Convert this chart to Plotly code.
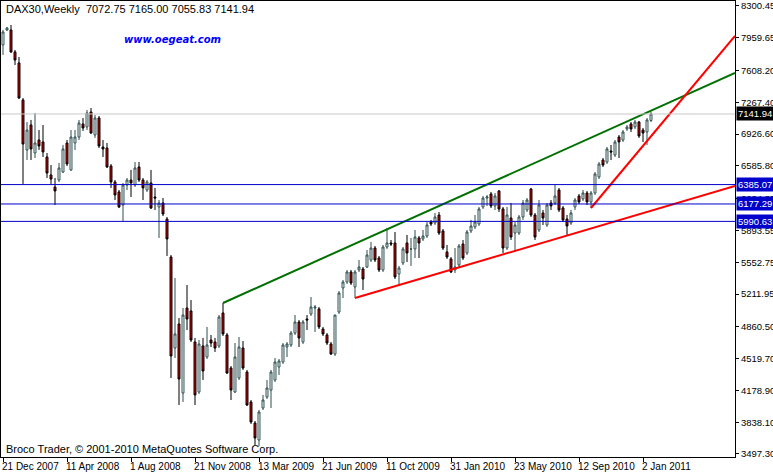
import plotly.graph_objects as go

# weekly DAX30 bars (O/H/L/C)
opens = [7882, 8042, 8042, 7807, 7689, 7292, 6756, 7024, 6724, 6863, 6842, 6681, 6488, 6359, 6434, 6520,
         6831, 6542, 6831, 6895, 7035, 7003, 7163, 6917, 7099, 6788, 6777, 6584, 6413, 6306, 6166, 6381,
         6434, 6381, 6574, 6434, 6327, 6402, 6252, 6145, 6188, 6016, 5609, 4633, 4891, 4151, 5062, 5030,
         4698, 4162, 4655, 4537, 4719, 4698, 4655, 5009, 4773, 4419, 4162, 4312, 4633, 4376, 4055, 3829,
         3647, 3990, 4108, 4183, 4290, 4430, 4483, 4644, 4666, 4794, 4912, 4698, 4944, 4998, 5062, 5052,
         4837, 4773, 4676, 4569, 5019, 5277, 5341, 5448, 5287, 5470, 5480, 5502, 5577, 5705, 5598, 5470,
         5716, 5759, 5759, 5427, 5545, 5759, 5695, 5695, 5813, 5802, 5834, 5984, 5973, 6059, 5888, 5663,
         5588, 5470, 5523, 5748, 5652, 5888, 5931, 5963, 6145, 6241, 6284, 6156, 6317, 6124, 5705, 6027,
         5866, 5866, 6038, 6113, 6338, 6059, 5898, 6081, 5952, 6188, 6188, 6327, 6134, 6016, 5973, 6145,
         6263, 6231, 6295, 6199, 6295, 6467, 6649, 6627, 6745, 6702, 6895, 6863, 6981, 7035, 7003, 7056,
         6970, 6949, 7072.75]
highs = [8043, 8075, 8096, 7828, 7753, 7313, 7056, 7078, 7153, 6970, 7024, 6724, 6595, 6456, 6617, 6810,
         6863, 6970, 6970, 7078, 7099, 7185, 7206, 7131, 7120, 6863, 6831, 6606, 6434, 6327, 6402, 6456,
         6542, 6627, 6627, 6456, 6434, 6542, 6349, 6220, 6241, 6038, 5630, 5384, 4955, 5062, 5309, 5148,
         4741, 4719, 4741, 4859, 4773, 4741, 4987, 5116, 4794, 4440, 4687, 4751, 4708, 4398, 4076, 3851,
         3969, 4130, 4290, 4398, 4526, 4516, 4687, 4698, 4816, 4987, 4934, 4934, 4987, 5180, 5094, 5073,
         4859, 4794, 4698, 4987, 5244, 5362, 5470, 5470, 5470, 5577, 5502, 5684, 5770, 5727, 5620, 5738,
         5920, 5791, 5877, 5513, 5716, 5845, 5813, 5898, 5834, 5898, 5984, 6006, 6081, 6091, 5909, 5738,
         5609, 5705, 5748, 5791, 5898, 6006, 6059, 6145, 6263, 6274, 6306, 6295, 6327, 6145, 6145, 6188,
         5984, 6059, 6220, 6241, 6349, 6081, 6220, 6113, 6188, 6220, 6381, 6349, 6156, 6059, 6113, 6241,
         6284, 6327, 6317, 6317, 6520, 6627, 6670, 6788, 6810, 6863, 6917, 6970, 7024, 7056, 7078, 7067,
         6992, 7099, 7165.00]
lows = [7774, 8032, 7796, 7667, 7303, 6392, 6649, 6649, 6670, 6756, 6681, 6456, 6392, 6166, 6413, 6509,
        6584, 6531, 6756, 6863, 6960, 6970, 6928, 6885, 6777, 6681, 6563, 6349, 6220, 6134, 5995, 6327,
        6252, 6359, 6413, 6220, 6306, 6124, 6113, 5813, 6048, 5620, 4312, 4526, 4022, 4055, 4826, 4698,
        4022, 4140, 4290, 4516, 4644, 4591, 4633, 4762, 4355, 4076, 4151, 4290, 4398, 4012, 3819, 3594,
        3583, 3969, 4087, 3990, 4269, 4344, 4462, 4537, 4644, 4773, 4644, 4676, 4826, 4977, 4805, 4837,
        4762, 4666, 4558, 4548, 4998, 5169, 5320, 5309, 5169, 5448, 5255, 5491, 5555, 5555, 5448, 5448,
        5695, 5727, 5373, 5309, 5523, 5555, 5513, 5598, 5598, 5780, 5813, 5941, 5952, 5845, 5684, 5588,
        5437, 5437, 5502, 5577, 5630, 5866, 5909, 5941, 6124, 6156, 6134, 6113, 6091, 5652, 5684, 5791,
        5663, 5845, 6006, 6091, 6038, 5791, 5877, 5952, 5931, 6113, 6166, 6091, 5984, 5834, 5952, 6113,
        6177, 6209, 6166, 6134, 6274, 6445, 6574, 6606, 6649, 6681, 6670, 6842, 6960, 6949, 6981, 6885,
        6842, 6810, 7055.83]
closes = [8021, 8064, 7807, 7721, 7313, 6820, 6970, 6767, 6831, 6799, 6735, 6509, 6445, 6317, 6563, 6767,
          6606, 6895, 6895, 7045, 6992, 7153, 6938, 7099, 6799, 6767, 6574, 6413, 6274, 6145, 6381, 6434,
          6402, 6563, 6434, 6349, 6413, 6134, 6241, 6188, 6070, 5802, 4548, 4784, 4301, 4987, 4944, 4719,
          4130, 4676, 4387, 4666, 4687, 4633, 4966, 4784, 4365, 4183, 4537, 4644, 4419, 4022, 3840, 3669,
          3947, 4076, 4205, 4376, 4483, 4494, 4666, 4676, 4794, 4912, 4741, 4912, 4934, 5073, 5073, 4859,
          4784, 4687, 4569, 4987, 5223, 5341, 5448, 5330, 5448, 5502, 5373, 5630, 5705, 5577, 5470, 5716,
          5759, 5748, 5395, 5491, 5695, 5652, 5695, 5823, 5759, 5834, 5952, 5963, 6038, 5866, 5705, 5609,
          5448, 5502, 5727, 5598, 5877, 5941, 5984, 6124, 6241, 6252, 6156, 6263, 6124, 5705, 6059, 5823,
          5952, 6038, 6188, 6220, 6059, 5823, 6166, 6027, 6166, 6156, 6263, 6113, 6006, 5941, 6081, 6220,
          6199, 6295, 6199, 6295, 6499, 6606, 6595, 6767, 6735, 6842, 6842, 6949, 7003, 6981, 7056, 6906,
          6938, 7078, 7141.94]
bars = list(range(len(closes)))

date_labels = ["21 Dec 2007", "11 Apr 2008", "1 Aug 2008", "21 Nov 2008", "13 Mar 2009", "21 Jun 2009",
               "11 Oct 2009", "31 Jan 2010", "23 May 2010", "12 Sep 2010", "2 Jan 2011"]
date_bars = [0, 16, 32, 48, 64, 80, 96, 112, 128, 144, 160]

price_ticks = [8300.45, 7959.65, 7608.20, 7267.40, 6926.60, 6585.80, 6234.35, 5893.55, 5552.75,
               5211.95, 4860.50, 4519.70, 4178.90, 3838.10, 3497.30]

levels = [6385.07, 6177.29, 5990.63]
last_price = 7141.94

# trendlines: (bar, price) start and end
green_x, green_y = [55, 183], [5116, 7581]
red1_x, red1_y = [88, 183], [5169, 6370]
red2_x, red2_y = [147, 183], [6134, 7978]

fig = go.Figure()
fig.add_trace(go.Candlestick(
    x=bars, open=opens, high=highs, low=lows, close=closes,
    increasing=dict(line=dict(color='#2f4f4f', width=1), fillcolor='white'),
    decreasing=dict(line=dict(color='black', width=1), fillcolor='#e00000'),
    whiskerwidth=0, hoverinfo='skip'))

for xs, ys, col in [(green_x, green_y, '#007000'), (red1_x, red1_y, '#ff0000'), (red2_x, red2_y, '#ff0000')]:
    fig.add_trace(go.Scatter(x=xs, y=ys, mode='lines', line=dict(color=col, width=2), hoverinfo='skip'))

fig.add_hline(y=last_price, line=dict(color='#c8c8c8', width=1))
for lv in levels:
    fig.add_hline(y=lv, line=dict(color='#0000cc', width=1))

font = "Liberation Sans"
anns = [dict(x=1, y=last_price, xref='paper', yref='y', text=f"{last_price:.2f}", showarrow=False,
             xanchor='left', xshift=1, bgcolor='black', font=dict(color='white', size=9.5, family=font),
             borderpad=1)]
for lv in levels:
    anns.append(dict(x=1, y=lv, xref='paper', yref='y', text=f"{lv:.2f}", showarrow=False,
                     xanchor='left', xshift=1, bgcolor='#0000cc', font=dict(color='white', size=9.5, family=font),
                     borderpad=1))
# date labels sit to the right of their tick, like the terminal does
for b, lab in zip(date_bars, date_labels):
    anns.append(dict(x=b, y=0, xref='x', yref='paper', text=lab, showarrow=False, xanchor='left',
                     yanchor='top', xshift=-3, yshift=-2, font=dict(size=10, family=font, color='black')))
anns += [
    dict(x=0.004, y=1.0, xref='paper', yref='paper', xanchor='left', yanchor='top', showarrow=False,
         text="DAX30,Weekly  7072.75 7165.00 7055.83 7141.94", font=dict(size=11, family=font, color='black')),
    dict(x=0.165, y=0.915, xref='paper', yref='paper', xanchor='left', yanchor='middle', showarrow=False,
         text="<b><i>www.oegeat.com</i></b>", font=dict(size=10, family="DejaVu Sans", color='#0000ff')),
    dict(x=0.004, y=0.0, xref='paper', yref='paper', xanchor='left', yanchor='bottom', showarrow=False,
         text="Broco Trader, © 2001-2010 MetaQuotes Software Corp.", font=dict(size=11, family=font, color='black')),
]

fig.update_layout(
    width=773, height=473, margin=dict(l=1, r=38, t=1, b=16),
    paper_bgcolor='white', plot_bgcolor='white', showlegend=False,
    font=dict(family=font, size=10, color='black'),
    annotations=anns,
    xaxis=dict(range=[-0.5, 183], rangeslider=dict(visible=False), showgrid=False, zeroline=False,
               tickvals=date_bars, showticklabels=False, ticks='outside', ticklen=4, tickcolor='black',
               automargin=False, showline=True, linecolor='black', mirror=True),
    yaxis=dict(range=[3465, 8353], side='right', showgrid=False, zeroline=False, automargin=False,
               tickvals=price_ticks, ticktext=[f"{p:.2f}" for p in price_ticks], ticklabelstandoff=0,
               tickfont=dict(size=9.5, family=font),
               ticks='outside', ticklen=3, tickcolor='black', showline=True, linecolor='black', mirror=True),
)

fig.write_html("out.html", config={'displayModeBar': False},
               post_script="document.body.style.margin='0';")
